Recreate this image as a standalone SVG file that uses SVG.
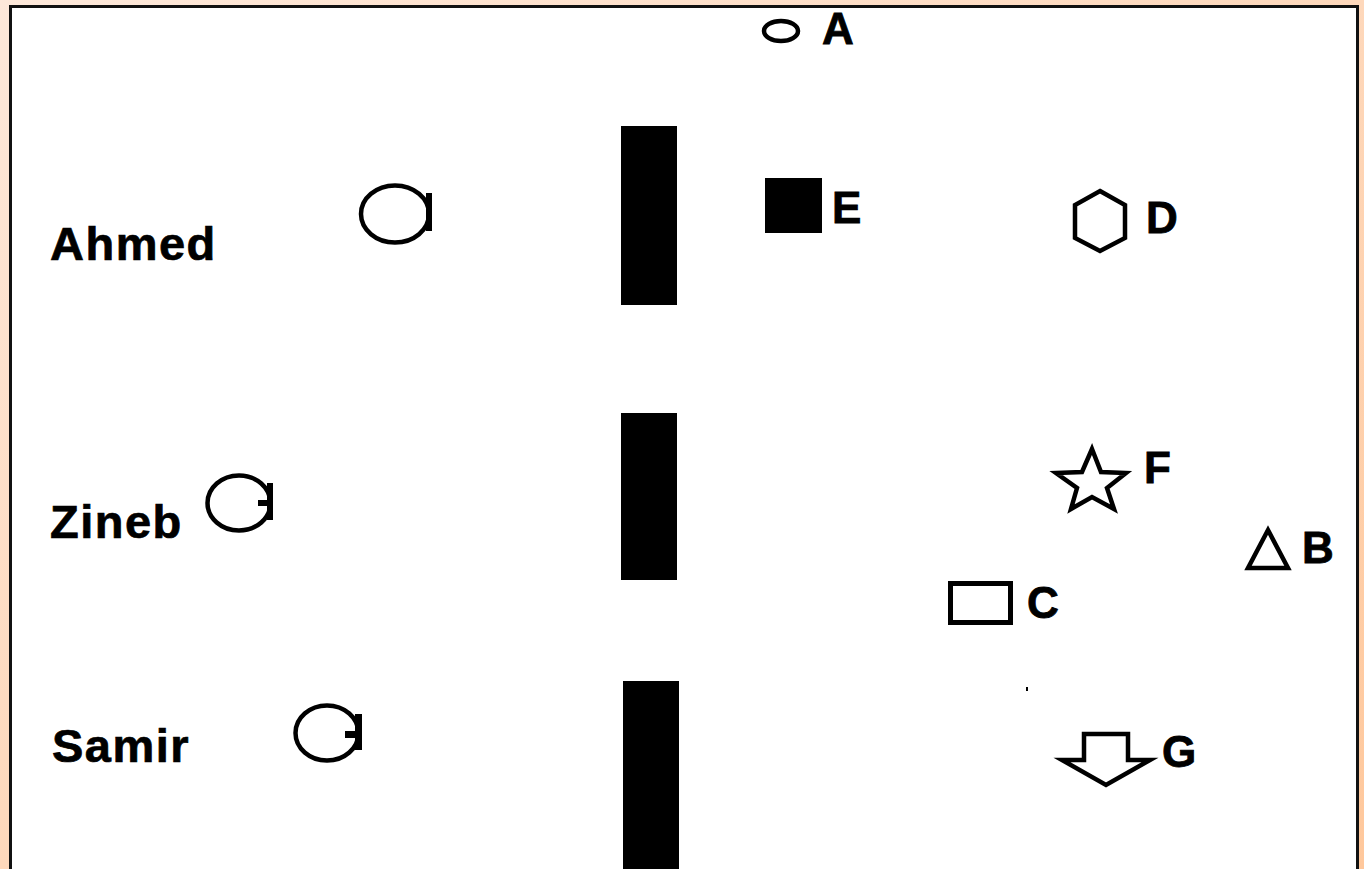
<svg xmlns="http://www.w3.org/2000/svg" width="1364" height="869" viewBox="0 0 1364 869">
<defs>
<linearGradient id="bg" x1="0" y1="0" x2="1" y2="1">
<stop offset="0" stop-color="#fde8da"/>
<stop offset="1" stop-color="#ffc89c"/>
</linearGradient>
<style>
.ln{fill:none;stroke:#000;stroke-width:4.5;stroke-linejoin:miter}
.bar{fill:#000}
.lab{font-family:"Liberation Sans",Arial,sans-serif;font-weight:bold;fill:#000;font-size:44px;stroke:#000;stroke-width:0.8}
.name{font-family:"Liberation Sans",Arial,sans-serif;font-weight:bold;fill:#000;font-size:47px;letter-spacing:1.5px;stroke:#000;stroke-width:0.7}
</style>
</defs>
<rect x="0" y="0" width="1364" height="869" fill="url(#bg)"/>
<rect x="10.5" y="6.5" width="1347" height="890" fill="#fff" stroke="#111" stroke-width="3"/>

<g id="bars">
<rect class="bar" x="621" y="126" width="56" height="179"/>
<rect class="bar" x="621" y="413" width="56" height="167"/>
<rect class="bar" x="623" y="681" width="56" height="190"/>
</g>

<g id="ahmed">
<text class="name" x="50" y="260">Ahmed</text>
<ellipse class="ln" cx="395" cy="214" rx="34" ry="28.5" stroke-width="5"/>
<rect class="bar" x="426" y="193" width="6" height="38"/>
</g>
<g id="zineb">
<text class="name" x="50" y="538">Zineb</text>
<ellipse class="ln" cx="239" cy="503" rx="31.5" ry="27.5" stroke-width="5"/>
<rect class="bar" x="267" y="483" width="6" height="37"/>
<rect class="bar" x="258" y="500" width="10" height="6"/>
</g>
<g id="samir">
<text class="name" x="52" y="762">Samir</text>
<ellipse class="ln" cx="327" cy="733" rx="31.5" ry="27.5" stroke-width="5"/>
<rect class="bar" x="355" y="714" width="7" height="36"/>
<rect class="bar" x="345" y="731" width="10" height="7"/>
</g>

<g id="nodeA">
<ellipse class="ln" cx="781" cy="31" rx="17" ry="10"/>
<text class="lab" x="822" y="44">A</text>
</g>
<g id="nodeE">
<rect class="bar" x="765" y="178" width="57" height="55"/>
<text class="lab" x="832" y="223">E</text>
</g>
<g id="nodeD">
<polygon class="ln" points="1100,191 1125,205 1125,238 1100,251 1075,238 1075,205"/>
<text class="lab" x="1146" y="233">D</text>
</g>
<g id="nodeF">
<polygon class="ln" points="1092,449 1101,472 1126,473 1107,488 1114,509 1092,497 1071,509 1077,488 1056,473 1082,472"/>
<text class="lab" x="1144" y="483">F</text>
</g>
<g id="nodeB">
<polygon class="ln" points="1268,530 1288,568 1248,568"/>
<text class="lab" x="1302" y="563">B</text>
</g>
<g id="nodeC">
<rect x="950.5" y="583.5" width="60" height="39" fill="none" stroke="#000" stroke-width="5"/>
<text class="lab" x="1027" y="618">C</text>
</g>
<g id="nodeG">
<polygon class="ln" points="1084,734 1128,734 1128,760 1150,760 1106,785 1062,760 1084,760"/>
<text class="lab" x="1162" y="767">G</text>
</g>
<g id="connectors"></g>
<rect class="bar" x="1026" y="687" width="2" height="4"/>
</svg>
